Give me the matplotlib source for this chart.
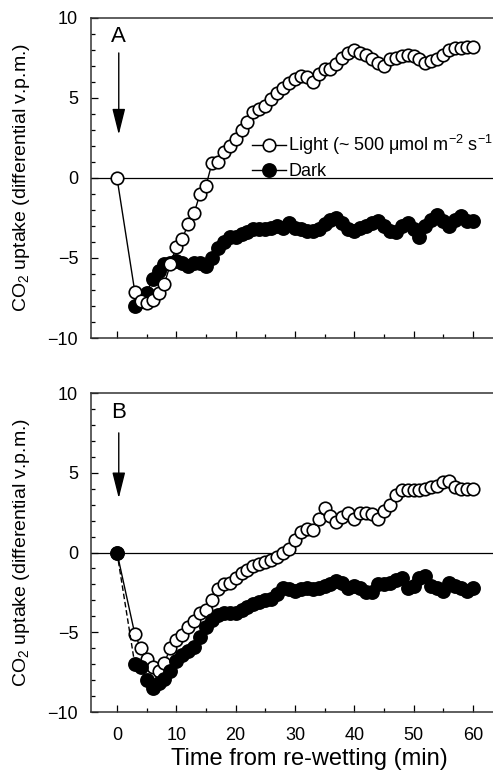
import matplotlib
matplotlib.use('Agg')
import matplotlib.pyplot as plt
from matplotlib.ticker import MultipleLocator

plt.rcParams['font.family'] = ['Liberation Sans', 'DejaVu Sans']
plt.rcParams['mathtext.fontset'] = 'custom'
plt.rcParams['mathtext.rm'] = 'Liberation Sans'
plt.rcParams['mathtext.it'] = 'Liberation Sans:italic'
plt.rcParams['mathtext.bf'] = 'Liberation Sans:bold'

# sampling times (min after re-wetting)
t_full = [0] + list(range(3, 61))
t_late = list(range(3, 61))

# panel A
light_a = [0.0,
           -7.1, -7.7, -7.8, -7.6, -7.2, -6.6, -5.4, -4.3, -3.8, -2.9,
           -2.2, -1.0, -0.5, 0.9, 1.0, 1.6, 2.0, 2.4, 3.0, 3.5,
           4.1, 4.3, 4.5, 4.9, 5.3, 5.6, 5.9, 6.2, 6.35, 6.3,
           6.0, 6.5, 6.8, 6.8, 7.1, 7.5, 7.8, 8.0, 7.8, 7.7,
           7.4, 7.2, 7.0, 7.4, 7.5, 7.6, 7.7, 7.6, 7.4, 7.2,
           7.3, 7.4, 7.7, 8.0, 8.1, 8.1, 8.2, 8.2]
dark_a = [-8.0, -7.7, -7.2, -6.3, -5.8, -5.4, -5.3, -5.2, -5.3, -5.5,
          -5.3, -5.3, -5.5, -5.0, -4.4, -4.0, -3.7, -3.7, -3.5, -3.4,
          -3.2, -3.2, -3.2, -3.1, -3.0, -3.1, -2.8, -3.1, -3.2, -3.3,
          -3.3, -3.2, -2.9, -2.6, -2.5, -2.8, -3.2, -3.3, -3.1, -3.0,
          -2.8, -2.7, -3.0, -3.3, -3.4, -3.0, -2.8, -3.2, -3.7, -3.0,
          -2.6, -2.3, -2.7, -3.0, -2.6, -2.4, -2.7, -2.7]

# panel B
light_b = [0.0,
           -5.1, -6.0, -6.7, -7.2, -7.4, -6.9, -6.0, -5.5, -5.2, -4.7,
           -4.3, -3.8, -3.6, -3.0, -2.3, -2.0, -1.9, -1.6, -1.3, -1.1,
           -0.85, -0.7, -0.6, -0.45, -0.25, -0.05, 0.2, 0.8, 1.3, 1.5,
           1.4, 2.1, 2.8, 2.3, 1.9, 2.2, 2.5, 2.1, 2.5, 2.5,
           2.4, 2.1, 2.6, 3.0, 3.6, 3.9, 3.9, 3.9, 3.9, 4.0,
           4.1, 4.2, 4.4, 4.5, 4.1, 4.0, 4.0, 4.0]
dark_b = [0.0,
          -7.0, -7.2, -8.0, -8.5, -8.2, -7.9, -7.4, -6.8, -6.4, -6.2,
          -5.9, -5.3, -4.7, -4.2, -3.9, -3.8, -3.8, -3.8, -3.6, -3.4,
          -3.2, -3.1, -3.0, -2.9, -2.6, -2.2, -2.3, -2.4, -2.3, -2.2,
          -2.3, -2.2, -2.1, -2.0, -1.8, -1.9, -2.2, -2.1, -2.2, -2.5,
          -2.5, -2.0, -2.0, -1.9, -1.7, -1.6, -2.2, -2.1, -1.6, -1.5,
          -2.1, -2.2, -2.4, -1.9, -2.1, -2.2, -2.4, -2.2]

light_label = 'Light (~ 500 \u03bcmol m$^{-2}$ s$^{-1}$)'
dark_label = 'Dark'

open_style = dict(marker='o', ms=9, mfc='white', mec='black', mew=1.2,
                  color='black', lw=1.0)
filled_style = dict(marker='o', ms=9.5, mfc='black', mec='black', mew=1.2,
                    color='black', lw=1.0)

fig = plt.figure(figsize=(4.93, 7.70), dpi=100)
ax_a = fig.add_axes([0.184, 0.561, 0.816, 0.416])
ax_b = fig.add_axes([0.184, 0.0753, 0.816, 0.4143])


def style_axes(ax):
    ax.set_xlim(-4.43, 63.4)
    ax.set_ylim(-10, 10)
    ax.xaxis.set_major_locator(MultipleLocator(10))
    ax.xaxis.set_minor_locator(MultipleLocator(5))
    ax.yaxis.set_major_locator(MultipleLocator(5))
    ax.yaxis.set_minor_locator(MultipleLocator(1))
    ax.tick_params(which='both', direction='in', top=False, right=False,
                   width=0.9, labelsize=13)
    ax.tick_params(which='major', length=5)
    ax.tick_params(which='minor', length=3)
    ax.tick_params(axis='y', pad=9)
    ax.tick_params(axis='x', pad=11)
    ax.spines['right'].set_visible(False)
    for s in ['left', 'top', 'bottom']:
        ax.spines[s].set_linewidth(1.1)
        ax.spines[s].set_color('#333333')
    ax.axhline(0, color='black', lw=0.9, zorder=1)
    ax.set_ylabel('CO$_2$ uptake (differential v.p.m.)', fontsize=14)
    ax.yaxis.set_label_coords(-0.146, 0.5)


style_axes(ax_a)
style_axes(ax_b)

# panel A: dark underneath, light on top
ax_a.plot(t_late, dark_a, label=dark_label, zorder=3, **filled_style)
ax_a.plot(t_full, light_a, label=light_label, zorder=4, **open_style)
ax_a.tick_params(labelbottom=False)
ax_a.text(0.3, 8.8, 'A', fontsize=16, ha='center', va='center')
ax_a.annotate('', xy=(0.3, 2.7), xytext=(0.3, 7.8),
              arrowprops=dict(arrowstyle='-|>,head_length=0.8,head_width=0.2',
                              color='black', lw=1.0, mutation_scale=20,
                              shrinkA=0, shrinkB=0))
h_dark, h_light = ax_a.get_legend_handles_labels()[0]
ax_a.legend([h_light, h_dark], [light_label, dark_label], loc='upper left',
            bbox_to_anchor=(0.401, 0.64), frameon=False, fontsize=13,
            borderpad=0, borderaxespad=0, handlelength=1.9,
            handletextpad=0.1, labelspacing=0.35)

# panel B: light underneath, dark on top
ax_b.plot(t_full, light_b, zorder=3, **open_style)
ax_b.plot(t_full, dark_b, zorder=4, linestyle=(0, (4, 2)), **filled_style)
ax_b.text(0.3, 8.8, 'B', fontsize=16, ha='center', va='center')
ax_b.annotate('', xy=(0.3, 3.4), xytext=(0.3, 7.5),
              arrowprops=dict(arrowstyle='-|>,head_length=0.8,head_width=0.2',
                              color='black', lw=1.0, mutation_scale=20,
                              shrinkA=0, shrinkB=0))
ax_b.set_xlabel('Time from re-wetting (min)', fontsize=17, ha='left')
ax_b.xaxis.set_label_coords(0.2, -0.113)

fig.savefig('out.png', dpi=100)
